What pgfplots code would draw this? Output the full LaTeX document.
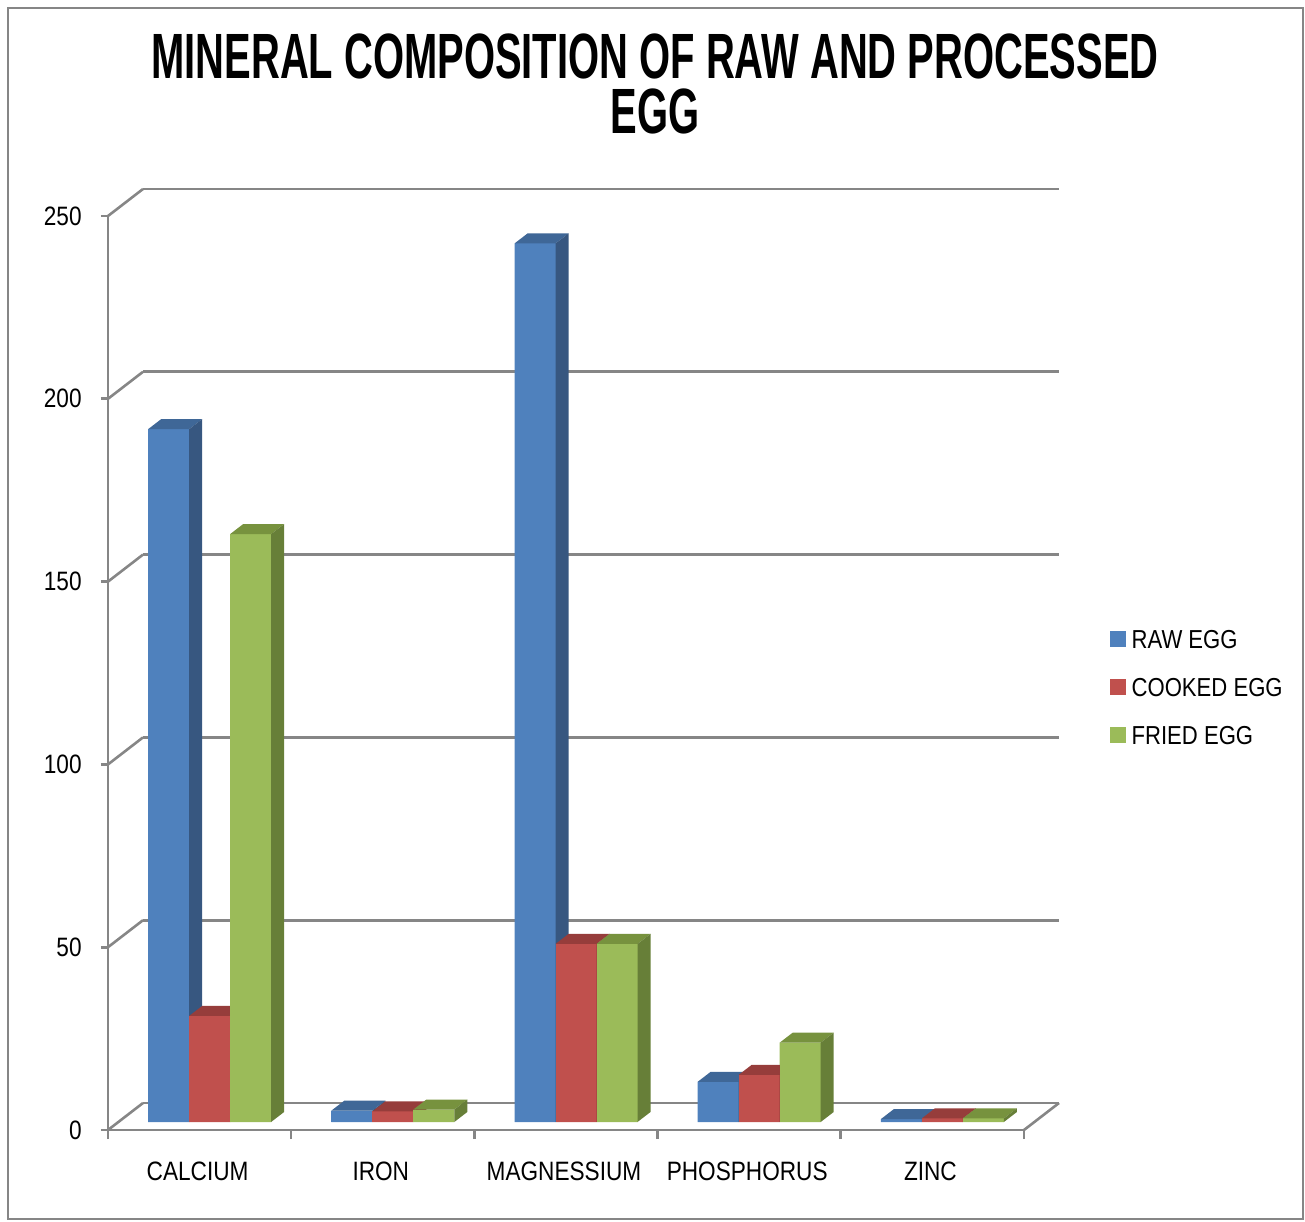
\documentclass[border=0pt]{standalone}
\usepackage{pgfplots}
\usepackage{pgfplotstable}
\pgfplotsset{compat=1.18}
\usepackage{fontspec}
\setmainfont{Liberation Sans}[FakeStretch=0.85]
\newfontfamily\titlefont{Liberation Sans}[FakeStretch=0.624]

\definecolor{gridgray}{RGB}{134,134,134}
\definecolor{rawfront}{RGB}{79,129,189}
\definecolor{rawtop}{RGB}{63,103,151}
\definecolor{rawside}{RGB}{55,87,128}
\definecolor{cookfront}{RGB}{192,80,77}
\definecolor{cooktop}{RGB}{150,61,59}
\definecolor{cookside}{RGB}{137,55,53}
\definecolor{friedfront}{RGB}{155,187,89}
\definecolor{friedtop}{RGB}{119,146,62}
\definecolor{friedside}{RGB}{103,127,56}

\pgfdeclareplotmark{empty}{}

% draws one cuboid with its front-top-centre at the current point
\newcommand\cuboid[3]{%
  \pgfmathsetmacro\hh{\cubval*1.828}%
  \pgfsetfillcolor{#1}%
  \pgfpathrectanglecorners{\pgfpoint{-10.25pt}{-\hh pt}}{\pgfpoint{10.25pt}{0pt}}%
  \pgfusepath{fill}%
  \pgfsetfillcolor{#2}%
  \pgfpathmoveto{\pgfpoint{-10.25pt}{0pt}}%
  \pgfpathlineto{\pgfpoint{10.25pt}{0pt}}%
  \pgfpathlineto{\pgfpoint{16.75pt}{5pt}}%
  \pgfpathlineto{\pgfpoint{-3.75pt}{5pt}}%
  \pgfpathclose\pgfusepath{fill}%
  \pgfsetfillcolor{#3}%
  \pgfpathmoveto{\pgfpoint{10.25pt}{0pt}}%
  \pgfpathlineto{\pgfpoint{16.75pt}{5pt}}%
  \pgfpathlineto{\pgfpoint{16.75pt}{5pt-\hh pt}}%
  \pgfpathlineto{\pgfpoint{10.25pt}{-\hh pt}}%
  \pgfpathclose\pgfusepath{fill}%
}

\pgfplotstableread{
cat raw cooked fried
CALCIUM 189.5 29 160.8
IRON 3.1 2.9 3.4
MAGNESSIUM 240.3 48.7 48.7
PHOSPHORUS 11 12.9 21.7
ZINC 0.8 1 1
}\datatable

\begin{document}
\begin{tikzpicture}
\useasboundingbox (0,0) rectangle (652.5pt,610.5pt);
\draw[gridgray, line width=1pt] (4pt,1pt) rectangle (651.5pt,606.5pt);

\node[anchor=north, align=center, font=\titlefont\bfseries\fontsize{32}{27.5}\selectfont, inner sep=0pt] at (327.5pt,593.6pt) {MINERAL COMPOSITION OF RAW AND PROCESSED\\EGG};

% back wall gridlines
\begin{axis}[at={(71.5pt,59pt)}, anchor=south west, scale only axis,
  width=458pt, height=457pt, xmin=0, xmax=5, ymin=0, ymax=250,
  ytick={0,50,...,250}, xtick=\empty, yticklabels={},
  ymajorgrids, grid style={gridgray, line width=1.3pt},
  axis line style={draw=none}, major tick length=0pt]
\end{axis}

% front plane: axis lines, ticks, labels, left wall and floor edges
\begin{axis}[at={(54pt,45.5pt)}, anchor=south west, scale only axis,
  width=458pt, height=457pt, xmin=0, xmax=5, ymin=0, ymax=250, clip=false,
  axis x line*=bottom, axis y line*=left,
  x axis line style={-}, y axis line style={-},
  axis line style={gridgray, line width=1.3pt},
  ytick={0,50,...,250},
  xtick={0.5,1.5,2.5,3.5,4.5},
  xticklabels={CALCIUM,IRON,MAGNESSIUM,PHOSPHORUS,ZINC},
  minor xtick={0,1,2,3,4,5},
  major x tick style={draw=none},
  tick align=outside, major tick length=3.5pt, minor tick length=4.5pt,
  tick style={gridgray, line width=1.3pt},
  /pgf/number format/assume math mode=true,
  ticklabel style={font=\fontsize{13.3}{13.3}\selectfont},
  yticklabel style={anchor=east, inner sep=0pt, xshift=-9.5pt},
  xticklabel style={anchor=north, inner sep=0pt, yshift=-12.5pt, xshift=-1pt}]
\pgfplotsinvokeforeach{0,50,100,150,200,250}{
  \draw[gridgray, line width=1.3pt] (axis cs:0,#1) -- ++(17.5pt,13.5pt);
}
\draw[gridgray, line width=1.3pt] (axis cs:5,0) -- ++(17.5pt,13.5pt);
\end{axis}

% bars
\begin{axis}[at={(59pt,49.5pt)}, anchor=south west, scale only axis,
  width=458pt, height=457pt, xmin=0, xmax=5, ymin=0, ymax=250, clip=false,
  hide axis,
  legend style={at={(1.083,0.474)}, anchor=west, draw=none, fill=none,
    inner sep=0pt, row sep=13.5pt,
    font=\fontsize{13}{13}\selectfont,
    nodes={inner sep=0pt}},
  legend cell align=left]
\addplot[ybar, bar width=20.5pt, bar shift=0pt, fill=rawfront, draw=none,
  scatter, mark=empty, forget plot,
  visualization depends on={rawy \as \cubval},
  scatter/@pre marker code/.code={\cuboid{rawfront}{rawtop}{rawside}},
  scatter/@post marker code/.code={}]
  table[x expr=\coordindex+0.5-0.2238, y=raw] {\datatable};
\addplot[ybar, bar width=20.5pt, bar shift=0pt, fill=cookfront, draw=none,
  scatter, mark=empty, forget plot,
  visualization depends on={rawy \as \cubval},
  scatter/@pre marker code/.code={\cuboid{cookfront}{cooktop}{cookside}},
  scatter/@post marker code/.code={}]
  table[x expr=\coordindex+0.5, y=cooked] {\datatable};
\addplot[ybar, bar width=20.5pt, bar shift=0pt, fill=friedfront, draw=none,
  scatter, mark=empty, forget plot,
  visualization depends on={rawy \as \cubval},
  scatter/@pre marker code/.code={\cuboid{friedfront}{friedtop}{friedside}},
  scatter/@post marker code/.code={}]
  table[x expr=\coordindex+0.5+0.2238, y=fried] {\datatable};
\addlegendimage{legend image code/.code={\fill[rawfront] (0pt,-2.75pt) rectangle (7.5pt,4.75pt); \path (10.2pt,0pt);}}
\addlegendentry{RAW EGG}
\addlegendimage{legend image code/.code={\fill[cookfront] (0pt,-2.75pt) rectangle (7.5pt,4.75pt); \path (10.2pt,0pt);}}
\addlegendentry{COOKED EGG}
\addlegendimage{legend image code/.code={\fill[friedfront] (0pt,-2.75pt) rectangle (7.5pt,4.75pt); \path (10.2pt,0pt);}}
\addlegendentry{FRIED EGG}
\end{axis}
\end{tikzpicture}
\end{document}
